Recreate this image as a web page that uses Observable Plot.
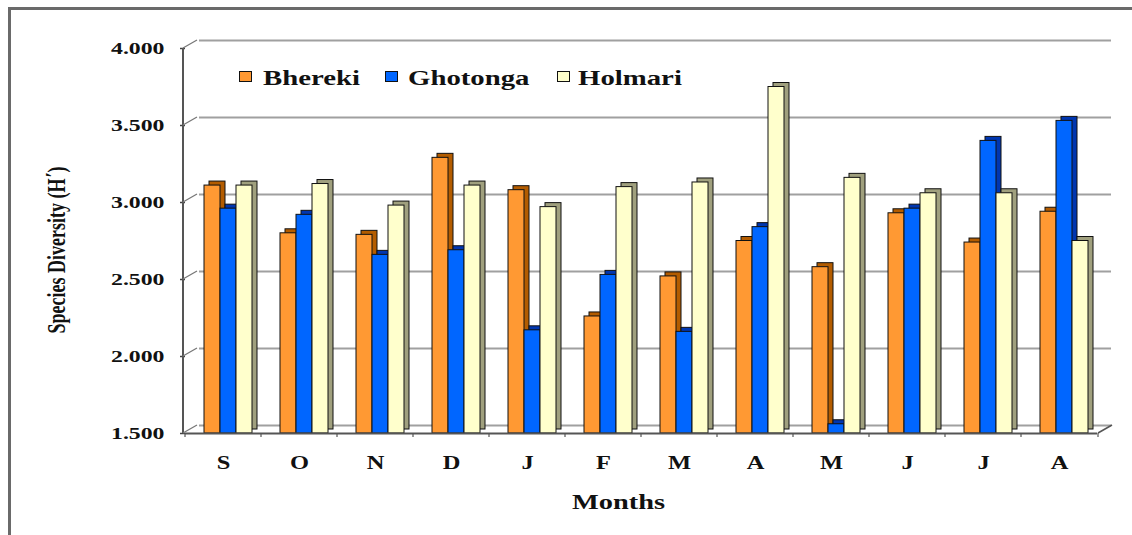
<!DOCTYPE html>
<html>
<head>
<meta charset="utf-8">
<script src="https://cdn.jsdelivr.net/npm/d3@7"></script>
<script src="https://cdn.jsdelivr.net/npm/@observablehq/plot@0.6"></script>
<style>
  html, body { margin: 0; padding: 0; background: #fff; }
  #wrap { position: relative; width: 1132px; height: 535px; overflow: hidden;
          font-family: "Liberation Serif", "Times New Roman", serif; color: #111; }
  #chart { position: absolute; left: 0; top: 0; }
  #frame { position: absolute; left: 8px; top: 7px; width: 1200px; height: 600px;
           border-left: 3px solid #6a6a6a; border-top: 3px solid #6a6a6a; }
  .lg-sw { position: absolute; top: 71px; width: 11px; height: 9px; border: 1.5px solid #111; }
  .lg-tx { position: absolute; top: 66px; line-height: 24px; font-size: 21px; font-weight: bold;
           font-family: "Liberation Serif", serif;
           white-space: nowrap; transform: scaleX(1.37); transform-origin: left center; }
  #ytitle { position: absolute; left: 57px; top: 250px; font-size: 18px; font-weight: bold;
            font-family: "Liberation Serif", serif; white-space: nowrap; line-height: 22px;
            transform: translate(-50%, -50%) rotate(-90deg) scaleY(1.35); }
  #xtitle { position: absolute; left: 572px; top: 489px; font-size: 22px; font-weight: bold;
            font-family: "Liberation Serif", serif;
            line-height: 26px; white-space: nowrap; transform: scaleX(1.29); transform-origin: left center; }
</style>
</head>
<body>
<div id="wrap">
  <div id="chart"></div>
  <div id="frame"></div>
  <div id="legend"></div>
  <div id="ytitle">Species Diversity (H΄)</div>
  <div id="xtitle">Months</div>
</div>
<script>
// Monthly species diversity (Shannon H') at three sites, September to August
const months = ["S", "O", "N", "D", "J", "F", "M", "A", "M", "J", "J", "A"];
const series = ["Bhereki", "Ghotonga", "Holmari"];
const bhereki  = [3.11, 2.80, 2.79, 3.29, 3.08, 2.26, 2.52, 2.75, 2.58, 2.93, 2.74, 2.94];
const ghotonga = [2.96, 2.92, 2.66, 2.69, 2.17, 2.53, 2.16, 2.84, 1.56, 2.96, 3.40, 3.53];
const holmari  = [3.11, 3.12, 2.98, 3.11, 2.97, 3.10, 3.13, 3.75, 3.16, 3.06, 3.06, 2.75];
const yTicks = [1.5, 2.0, 2.5, 3.0, 3.5, 4.0];

const frontColors = ["#FF9933", "#0066FF", "#FFFFCC"];
const sideColors  = ["#B35C00", "#0036B0", "#A0A07E"];
const legendSwatchX = [239, 385, 557];
const legendTextX = [263, 408, 578];
const serifFont = "'Liberation Serif', 'Times New Roman', serif";

const valuesBySeries = [bhereki, ghotonga, holmari];
const rows = [];
valuesBySeries.forEach((vals, s) => vals.forEach((v, m) => rows.push({m, series: series[s], value: v})));

// Each column: a darker offset block for the top/side faces, then the front face
const barMarks = [];
series.forEach((name, s) => {
  const data = rows.filter(d => d.series === name);
  barMarks.push(Plot.barY(data, {fx: "m", x: "series", y1: 1.5, y2: "value",
    fill: sideColors[s], stroke: "#111", strokeWidth: 1, dx: 5, dy: -4}));
  barMarks.push(Plot.barY(data, {fx: "m", x: "series", y1: 1.5, y2: "value",
    fill: frontColors[s], stroke: "#111", strokeWidth: 1}));
});

const plot = Plot.plot({
  width: 1132,
  height: 535,
  marginTop: 48,
  marginBottom: 102,
  marginLeft: 183,
  marginRight: 34,
  style: {fontFamily: serifFont, background: "transparent"},
  fx: {domain: d3.range(months.length), padding: 0},
  x: {domain: series, axis: null, paddingInner: 0, paddingOuter: 0.79, align: 0.667},
  y: {domain: [1.5, 4.0]},
  marks: [
    // back-wall gridlines
    Plot.ruleY(yTicks, {dx: 14, dy: -8, stroke: "#a0a0a0", strokeWidth: 2}),
    ...barMarks,
    // front edge of the floor
    Plot.ruleY([1.5], {stroke: "#555", strokeWidth: 2}),
    Plot.axisY({ticks: yTicks, tickFormat: d3.format(".3f"), tickSize: 5, tickPadding: 16,
      fontSize: 17.5, fontWeight: "bold", fontFamily: serifFont, stroke: "#444", strokeWidth: 1.5, label: null}),
    Plot.axisFx({anchor: "bottom", tickSize: 0, tickPadding: 23, tickFormat: i => months[i],
      fontSize: 18, fontWeight: "bold", fontFamily: serifFont, label: null})
  ]
});

document.getElementById("chart").appendChild(plot);

// widen axis lettering horizontally about each label's anchor
const svg = d3.select(plot);
svg.selectAll('[aria-label="y-axis tick label"] text, [aria-label="fx-axis tick label"] text')
  .each(function () {
    const t = this.getAttribute("transform");
    if (t) this.setAttribute("transform", t + " scale(1.36,1)");
  });

// axis wall, floor edges and category ticks placed with the plot's own scales
const y = plot.scale("y");
const fx = plot.scale("fx");
const x0 = fx.range[0], x1 = fx.range[1];
const yb = y.apply(1.5), yt = y.apply(4.0);
const g = svg.append("g").attr("stroke", "#555").attr("fill", "none");
g.append("line").attr("x1", x0).attr("x2", x0).attr("y1", yb).attr("y2", yt).attr("stroke-width", 2);
yTicks.forEach(v => {
  const yy = y.apply(v);
  g.append("line").attr("x1", x0).attr("y1", yy).attr("x2", x0 + 14).attr("y2", yy - 8)
    .attr("stroke", "#777").attr("stroke-width", 1.2);
});
g.append("line").attr("x1", x1).attr("y1", yb).attr("x2", x1 + 14).attr("y2", yb - 8)
  .attr("stroke-width", 1.5);
d3.range(months.length + 1).forEach(i => {
  const xx = i < months.length ? fx.apply(i) : x1;
  g.append("line").attr("x1", xx).attr("x2", xx).attr("y1", yb).attr("y2", yb + 4).attr("stroke-width", 1.2);
});

// legend
const legend = document.getElementById("legend");
series.forEach((name, s) => {
  const sw = document.createElement("div");
  sw.className = "lg-sw";
  sw.style.left = legendSwatchX[s] + "px";
  sw.style.background = frontColors[s];
  legend.appendChild(sw);
  const tx = document.createElement("div");
  tx.className = "lg-tx";
  tx.style.left = legendTextX[s] + "px";
  tx.textContent = name;
  legend.appendChild(tx);
});
</script>
</body>
</html>
